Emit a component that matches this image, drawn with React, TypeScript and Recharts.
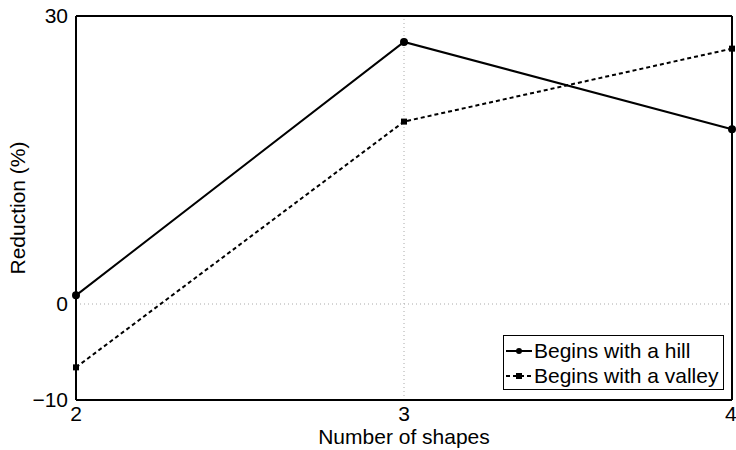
import React from 'react';
import { LineChart, Line, XAxis, YAxis, ReferenceLine } from 'recharts';

const shapes = [2, 3, 4];
const hill = [0.9, 27.3, 18.2];
const valley = [-6.6, 19.0, 26.6];
const yTicks = [-10, 0, 30];
const seriesNames = ['Begins with a hill', 'Begins with a valley'];

const data = shapes.map((s, i) => ({ shapes: s, hill: hill[i], valley: valley[i] }));

const FONT = 'Liberation Sans, Arial, sans-serif';

const SquareDot = (props: any) => {
  const { cx, cy } = props;
  if (cx == null || cy == null) return null;
  return <rect x={cx - 3} y={cy - 3} width={6} height={6} fill="#000" />;
};

// legend drawn as an overlay so it doesn't shrink the plot
const LegendBox = () => (
  <div
    style={{
      position: 'absolute',
      left: 503,
      top: 335,
      border: '1px solid #000',
      background: '#fff',
      width: 221,
      height: 55,
      fontFamily: FONT,
      fontSize: 21,
      lineHeight: '25px',
      paddingTop: 2,
      boxSizing: 'border-box',
    }}
  >
    <div style={{ display: 'flex', alignItems: 'center' }}>
      <svg width={30} height={20}>
        <line x1={2} y1={10} x2={28} y2={10} stroke="#000" strokeWidth={2} />
        <circle cx={15} cy={10} r={3} fill="#000" />
      </svg>
      <span>{seriesNames[0]}</span>
    </div>
    <div style={{ display: 'flex', alignItems: 'center' }}>
      <svg width={30} height={20}>
        <line x1={2} y1={10} x2={28} y2={10} stroke="#000" strokeWidth={2} strokeDasharray="4 3" />
        <rect x={12} y={7} width={6} height={6} fill="#000" />
      </svg>
      <span>{seriesNames[1]}</span>
    </div>
  </div>
);

export default function App() {
  return (
    <div style={{ position: 'absolute', left: 0, top: 0, width: 736, height: 450, background: '#fff' }}>
      <LineChart
        width={736}
        height={450}
        data={data}
        margin={{ top: 16, right: 4, bottom: 0, left: 0 }}
      >
        <XAxis
          dataKey="shapes"
          type="number"
          domain={[2, 4]}
          ticks={shapes}
          height={50}
          axisLine={{ stroke: '#000', strokeWidth: 2 }}
          tickLine={false}
          tick={{ fill: '#000', fontSize: 21, fontFamily: FONT }}
          tickMargin={0}
          label={{
            value: 'Number of shapes',
            position: 'insideBottom',
            offset: 6,
            fill: '#000',
            fontSize: 21,
            fontFamily: FONT,
          }}
        />
        <YAxis
          type="number"
          domain={[-10, 30]}
          ticks={yTicks}
          width={76}
          axisLine={{ stroke: '#000', strokeWidth: 2 }}
          tickLine={false}
          tick={{ fill: '#000', fontSize: 21, fontFamily: FONT }}
          tickMargin={2}
          tickFormatter={(v: number) => String(v).replace('-', '\u2212')}
          label={{
            value: 'Reduction (%)',
            angle: -90,
            position: 'center',
            dx: -20,
            fill: '#000',
            fontSize: 21,
            fontFamily: FONT,
          }}
        />
        <ReferenceLine y={0} stroke="#aaa" strokeDasharray="1 3" />
        <ReferenceLine x={3} stroke="#aaa" strokeDasharray="1 3" />
        <ReferenceLine y={30} stroke="#000" strokeWidth={2} />
        <ReferenceLine x={4} stroke="#000" strokeWidth={2} />
        <Line
          dataKey="hill"
          stroke="#000"
          strokeWidth={2}
          dot={{ r: 3, fill: '#000', stroke: '#000' }}
          isAnimationActive={false}
        />
        <Line
          dataKey="valley"
          stroke="#000"
          strokeWidth={2}
          strokeDasharray="4 3"
          dot={<SquareDot />}
          isAnimationActive={false}
        />
      </LineChart>
      <LegendBox />
    </div>
  );
}
